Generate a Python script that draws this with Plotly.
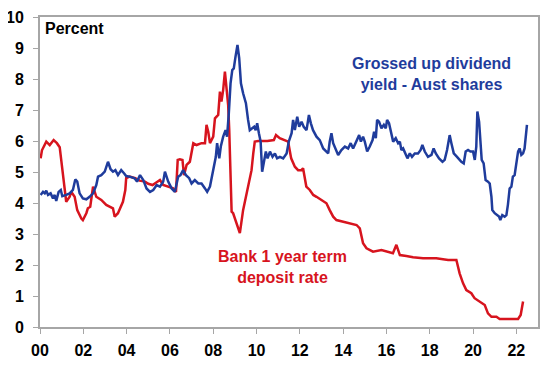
import plotly.graph_objects as go

# Bank 1 year term deposit rate (%)
deposit_years = [2000.03, 2000.09, 2000.29, 2000.45, 2000.63, 2000.78, 2000.91, 2001.14, 2001.21, 2001.37,
                 2001.44, 2001.6, 2001.72, 2001.91, 2001.98, 2002.14, 2002.21, 2002.32, 2002.4, 2002.45,
                 2002.6, 2002.83, 2003.06, 2003.22, 2003.37, 2003.45, 2003.6, 2003.83, 2003.94, 2003.98,
                 2004.14, 2004.4, 2004.6, 2004.85, 2005.0, 2005.2, 2005.31, 2005.54, 2005.69, 2005.92,
                 2006.15, 2006.28, 2006.36, 2006.46, 2006.58, 2006.65, 2006.77, 2006.92, 2007.08, 2007.23,
                 2007.46, 2007.62, 2007.69, 2007.77, 2007.85, 2008.0, 2008.08, 2008.23, 2008.31, 2008.38,
                 2008.46, 2008.54, 2008.62, 2008.69, 2008.74, 2008.8, 2008.85, 2008.92, 2009.0, 2009.1,
                 2009.2, 2009.23, 2009.38, 2009.61, 2009.77, 2009.85, 2009.92, 2010.08, 2010.5, 2010.8,
                 2010.9, 2011.07, 2011.3, 2011.46, 2011.6, 2011.77, 2011.92, 2012.07, 2012.15, 2012.3,
                 2012.46, 2012.62, 2012.77, 2013.0, 2013.23, 2013.38, 2013.54, 2013.69, 2014.0, 2014.23,
                 2014.62, 2014.77, 2014.92, 2015.08, 2015.38, 2015.77, 2016.0, 2016.3, 2016.46, 2016.62,
                 2016.92, 2017.23, 2017.69, 2018.3, 2018.85, 2019.23, 2019.38, 2019.54, 2019.69, 2019.92,
                 2020.07, 2020.3, 2020.54, 2020.69, 2020.85, 2021.08, 2021.23, 2022.08, 2022.2, 2022.31]
deposit_rate = [5.44, 5.7, 5.98, 5.87, 6.03, 5.93, 5.8, 4.42, 4.04, 4.2,
                4.36, 4.2, 3.77, 3.5, 3.45, 3.67, 3.83, 3.88, 4.36, 4.53,
                4.2, 4.1, 3.94, 3.88, 3.83, 3.56, 3.67, 4.04, 4.42, 4.8,
                4.85, 4.8, 4.72, 4.69, 4.62, 4.58, 4.63, 4.74, 4.58, 4.53,
                4.47, 4.36, 5.39, 5.41, 5.39, 4.9, 5.23, 5.33, 5.93, 5.87,
                5.93, 5.93, 6.52, 6.3, 5.93, 6.14, 6.73, 6.84, 7.59, 7.27,
                7.65, 8.24, 7.75, 7.16, 6.35, 4.85, 3.72, 3.67, 3.5, 3.24,
                3.1, 3.03, 3.77, 4.53, 5.06, 5.6, 5.98, 6.0, 6.0, 6.03,
                6.19, 6.09, 6.03, 5.98, 5.44, 5.17, 5.06, 5.06, 5.12, 4.53,
                4.42, 4.26, 4.2, 4.1, 3.99, 3.77, 3.56, 3.45, 3.4, 3.35,
                3.29, 3.18, 2.7, 2.54, 2.43, 2.48, 2.43, 2.38, 2.65, 2.32,
                2.29, 2.25, 2.22, 2.22, 2.16, 2.16, 1.73, 1.41, 1.19, 1.09,
                0.93, 0.82, 0.71, 0.44, 0.33, 0.33, 0.26, 0.26, 0.39, 0.82]

# Grossed up dividend yield - Aust shares (%)
yield_years = [2000.03, 2000.14, 2000.22, 2000.29, 2000.37, 2000.49, 2000.6, 2000.68, 2000.75, 2000.86,
               2000.96, 2001.03, 2001.21, 2001.37, 2001.52, 2001.63, 2001.72, 2001.83, 2001.98, 2002.14,
               2002.29, 2002.45, 2002.6, 2002.68, 2002.83, 2002.99, 2003.14, 2003.26, 2003.37, 2003.48,
               2003.6, 2003.75, 2003.88, 2003.98, 2004.14, 2004.37, 2004.48, 2004.62, 2004.77, 2004.92,
               2005.08, 2005.23, 2005.39, 2005.54, 2005.69, 2005.77, 2005.92, 2006.08, 2006.23, 2006.38,
               2006.49, 2006.61, 2006.74, 2006.89, 2007.0, 2007.15, 2007.31, 2007.46, 2007.62, 2007.72,
               2007.85, 2007.97, 2008.03, 2008.12, 2008.18, 2008.28, 2008.35, 2008.46, 2008.57, 2008.64,
               2008.72, 2008.8, 2008.88, 2008.95, 2009.03, 2009.12, 2009.2, 2009.28, 2009.38, 2009.51,
               2009.61, 2009.69, 2009.8, 2009.89, 2009.96, 2010.03, 2010.11, 2010.19, 2010.26, 2010.34,
               2010.43, 2010.51, 2010.62, 2010.74, 2010.85, 2010.95, 2011.08, 2011.23, 2011.39, 2011.49,
               2011.62, 2011.69, 2011.77, 2011.88, 2011.97, 2012.08, 2012.18, 2012.31, 2012.42, 2012.51,
               2012.61, 2012.77, 2012.92, 2013.08, 2013.2, 2013.31, 2013.38, 2013.46, 2013.54, 2013.65,
               2013.77, 2013.92, 2014.08, 2014.23, 2014.35, 2014.46, 2014.62, 2014.74, 2014.82, 2014.92,
               2015.0, 2015.11, 2015.23, 2015.36, 2015.43, 2015.51, 2015.57, 2015.66, 2015.77, 2015.88,
               2015.97, 2016.03, 2016.12, 2016.23, 2016.31, 2016.43, 2016.54, 2016.62, 2016.69, 2016.77,
               2016.88, 2016.97, 2017.08, 2017.18, 2017.31, 2017.46, 2017.58, 2017.66, 2017.77, 2017.92,
               2018.08, 2018.18, 2018.28, 2018.43, 2018.59, 2018.69, 2018.8, 2018.92, 2019.0, 2019.11,
               2019.26, 2019.38, 2019.46, 2019.57, 2019.66, 2019.77, 2019.88, 2020.0, 2020.08, 2020.15,
               2020.2, 2020.28, 2020.34, 2020.4, 2020.49, 2020.58, 2020.69, 2020.77, 2020.85, 2020.89,
               2021.0, 2021.11, 2021.2, 2021.26, 2021.35, 2021.46, 2021.54, 2021.61, 2021.69, 2021.77,
               2021.84, 2021.92, 2022.0, 2022.08, 2022.15, 2022.23, 2022.31, 2022.38, 2022.49]
dividend_yield = [4.26, 4.36, 4.31, 4.4, 4.26, 4.31, 4.15, 4.26, 4.07, 4.36,
                  4.42, 4.22, 4.26, 4.31, 4.42, 4.76, 4.69, 4.31, 4.15, 4.12,
                  4.2, 4.31, 4.58, 4.85, 4.9, 5.01, 5.33, 5.09, 5.01, 5.06,
                  4.9, 5.06, 4.96, 4.87, 4.85, 4.8, 4.69, 4.9, 4.74, 4.47,
                  4.36, 4.42, 4.58, 4.53, 4.69, 5.01, 4.69, 4.47, 4.36, 4.85,
                  4.9, 5.06, 4.9, 4.8, 4.63, 4.74, 4.63, 4.63, 4.47, 4.36,
                  4.53, 4.96, 5.28, 5.49, 5.93, 5.44, 5.82, 6.14, 6.35, 6.14,
                  6.89, 7.86, 8.29, 8.34, 8.72, 9.1, 8.67, 7.86, 7.54, 7.22,
                  6.68, 6.35, 6.41, 6.46, 6.35, 6.57, 6.25, 5.98, 5.01, 5.39,
                  5.66, 5.44, 5.66, 5.49, 5.6, 5.44, 5.49, 5.44, 5.6, 5.98,
                  6.25, 6.68, 6.35, 6.78, 6.46, 6.62, 6.46, 6.35, 6.84, 6.57,
                  6.35, 6.14, 6.03, 5.76, 5.66, 5.6, 5.98, 6.25, 5.93, 5.76,
                  5.55, 5.71, 5.82, 5.76, 5.93, 5.76, 6.03, 6.19, 5.98, 6.14,
                  5.98, 5.66, 5.82, 6.03, 6.3, 6.09, 6.68, 6.62, 6.41, 6.52,
                  6.41, 6.68, 6.57, 6.25, 5.98, 6.09, 5.93, 5.98, 5.71, 5.76,
                  5.6, 5.44, 5.6, 5.49, 5.6, 5.6, 5.71, 5.87, 5.66, 5.49,
                  5.55, 5.76, 5.6, 5.44, 5.33, 5.39, 5.71, 6.19, 5.93, 5.6,
                  5.49, 5.39, 5.33, 5.28, 5.66, 5.71, 5.66, 5.66, 5.39, 5.82,
                  6.95, 6.62, 6.03, 5.39, 5.28, 4.74, 4.69, 4.63, 4.2, 3.77,
                  3.67, 3.61, 3.56, 3.45, 3.61, 3.56, 3.61, 3.94, 4.47, 4.53,
                  4.85, 4.9, 5.28, 5.66, 5.76, 5.55, 5.6, 5.76, 6.52]

x_tick_vals = [2000, 2002, 2004, 2006, 2008, 2010, 2012, 2014, 2016, 2018, 2020, 2022]
x_tick_text = ["00", "02", "04", "06", "08", "10", "12", "14", "16", "18", "20", "22"]
y_tick_vals = [0, 1, 2, 3, 4, 5, 6, 7, 8, 9, 10]

RED = "#D7141E"
BLUE = "#1F3C9C"
FONT = "Liberation Sans, Arial, sans-serif"

fig = go.Figure()
fig.add_trace(go.Scatter(x=deposit_years, y=deposit_rate, mode="lines",
                         line=dict(color=RED, width=2.5), name="Bank 1 year term deposit rate"))
fig.add_trace(go.Scatter(x=yield_years, y=dividend_yield, mode="lines",
                         line=dict(color=BLUE, width=2.5), name="Grossed up dividend yield - Aust shares"))

fig.add_annotation(x=0.006, y=0.998, xref="paper", yref="paper", text="<b>Percent</b>",
                   showarrow=False, xanchor="left", yanchor="top",
                   font=dict(family=FONT, size=16, color="black"))
fig.add_annotation(x=2018.1, y=8.15, xref="x", yref="y",
                   text="<b>Grossed up dividend<br>yield - Aust shares</b>",
                   showarrow=False, align="center",
                   font=dict(family=FONT, size=16, color=BLUE))
fig.add_annotation(x=2011.2, y=1.94, xref="x", yref="y",
                   text="<b>Bank 1 year term<br>deposit rate</b>",
                   showarrow=False, align="center",
                   font=dict(family=FONT, size=16, color=RED))

axis_common = dict(showline=True, linecolor="#A6A6A6", linewidth=2, mirror=True,
                   showgrid=False, zeroline=False, ticks="outside", ticklen=5,
                   tickwidth=1, tickcolor="#A6A6A6", automargin=False,
                   tickfont=dict(family=FONT, size=16, color="black", weight="bold"))

fig.update_xaxes(range=[2000, 2023], tickvals=x_tick_vals, ticktext=x_tick_text,
                 ticklabelstandoff=3, **axis_common)
fig.update_yaxes(range=[0, 10], tickvals=y_tick_vals, ticklabelstandoff=6, **axis_common)

# The page body adds an 8px offset, so the figure is 8px smaller and margins compensate.
fig.update_layout(width=540, height=358, showlegend=False,
                  margin=dict(l=32, r=10, t=9, b=39),
                  plot_bgcolor="white", paper_bgcolor="white",
                  font=dict(family=FONT, size=16, color="black"))

fig.write_html("out.html")
